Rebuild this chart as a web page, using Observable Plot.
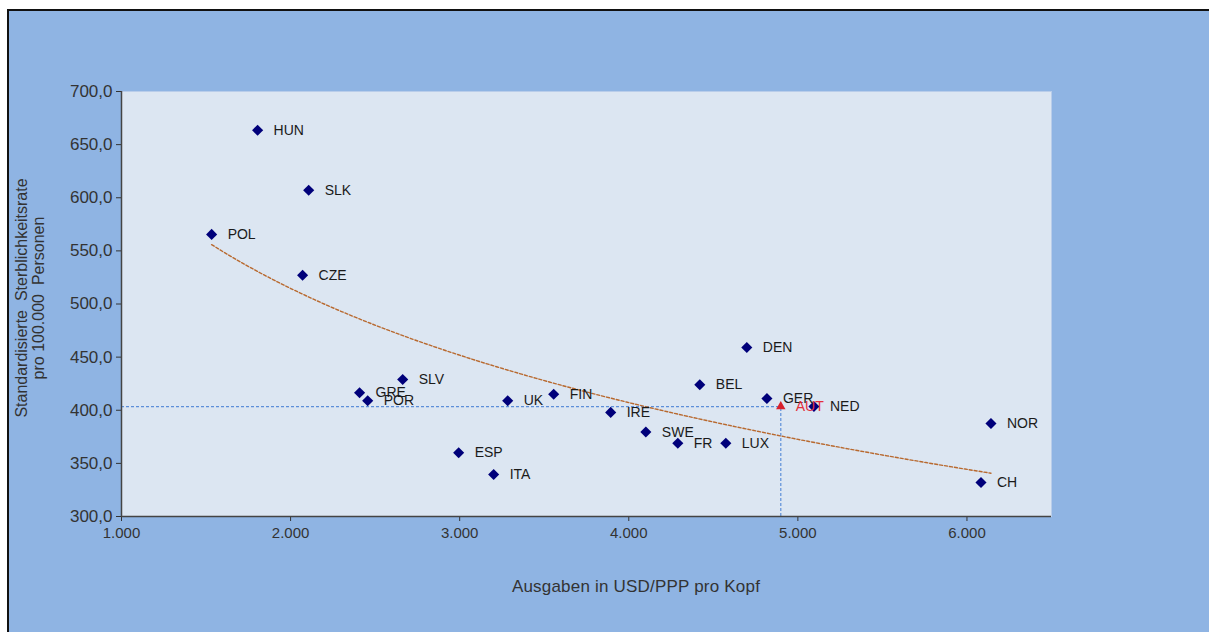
<!DOCTYPE html>
<html>
<head>
<meta charset="utf-8">
<script src="https://cdn.jsdelivr.net/npm/d3@7"></script>
<script src="https://cdn.jsdelivr.net/npm/@observablehq/plot@0.6"></script>
<style>
  html, body { margin: 0; padding: 0; background: #ffffff; }
  #wrap { position: relative; width: 1209px; height: 632px; overflow: hidden; background: #ffffff; }
  #panel { position: absolute; left: 7px; top: 9px; right: 0; bottom: 0; background: #8fb4e3;
           border-left: 2px solid #111; border-top: 2px solid #111; }
  #chart { position: absolute; left: 0; top: 0; }
  #ytitle { position: absolute; left: 30px; top: 298px; transform: translate(-50%, -50%) rotate(-90deg);
            font-family: "Liberation Sans", Arial, sans-serif; font-size: 16px; color: #333; text-align: center;
            line-height: 17px; white-space: nowrap; }
  #xtitle { position: absolute; left: 636px; top: 587px; transform: translate(-50%, -50%);
            font-family: "Liberation Sans Narrow", "Liberation Sans", sans-serif; font-size: 17px; color: #333;
            white-space: nowrap; letter-spacing: 0.2px; }
</style>
</head>
<body>
<div id="wrap">
  <div id="panel"></div>
  <div id="chart"></div>
  <div id="ytitle">Standardisierte&nbsp; Sterblichkeitsrate<br>pro 100.000&nbsp; Personen</div>
  <div id="xtitle">Ausgaben in USD/PPP pro Kopf</div>
</div>
<script>
const countries = ["HUN","SLK","POL","CZE","DEN","BEL","SLV","GRE","POR","UK","FIN","IRE","GER","AUT","NED","NOR","SWE","FR","LUX","ESP","ITA","CH"];
const spending  = [1805, 2107, 1533, 2071, 4698, 4420, 2663, 2408, 2456, 3284, 3556, 3893, 4817, 4899, 5095, 6142, 4101, 4290, 4574, 2994, 3201, 6083];
const mortality = [663.5, 607, 565.5, 527, 459, 424, 429, 416.5, 409, 409, 415, 398, 411, 403.5, 403.5, 387.5, 379.5, 369, 369, 360, 339.5, 332];
const highlight = "AUT";
const xDomain = [1000, 6500];
const yDomain = [300, 700];
const xTicks = [1000, 2000, 3000, 4000, 5000, 6000];
const yTicks = [300, 350, 400, 450, 500, 550, 600, 650, 700];

const data = countries.map((c, i) => ({country: c, x: spending[i], y: mortality[i]}));
const others = data.filter(d => d.country !== highlight);
const aut = data.filter(d => d.country === highlight);

// logarithmic trend line (least squares on ln x), as in the spreadsheet's trendline
const lx = data.map(d => Math.log(d.x));
const mx = d3.mean(lx), my = d3.mean(data, d => d.y);
const b = d3.sum(data, (d, i) => (lx[i] - mx) * (d.y - my)) / d3.sum(lx, v => (v - mx) ** 2);
const a = my - b * mx;
const [minX, maxX] = d3.extent(spending);
const trend = d3.range(0, 61).map(k => {
  const x = minX + (maxX - minX) * k / 60;
  return {x, y: a + b * Math.log(x)};
});

const fmtY = d => d3.format(".1f")(d).replace(".", ",");
const fmtX = d => d3.format(",")(d).replace(/,/g, ".");

const chart = Plot.plot({
  width: 1209,
  height: 632,
  marginLeft: 121,
  marginRight: 158,
  marginTop: 91,
  marginBottom: 116,
  style: {background: "transparent", color: "#333", fontFamily: "Liberation Sans, Arial, sans-serif"},
  x: {domain: xDomain, ticks: xTicks, tickFormat: fmtX, label: null, tickSize: 5},
  y: {domain: yDomain, ticks: yTicks, tickFormat: fmtY, label: null, tickSize: 5},
  marks: [
    Plot.frame({fill: "#dce6f2", stroke: "#b9cdea"}),
    Plot.axisY({ticks: yTicks, tickFormat: fmtY, tickSize: 5, tickPadding: 4, fontSize: 17, label: null, stroke: "#333"}),
    Plot.axisX({ticks: xTicks, tickFormat: fmtX, tickSize: 5, tickPadding: 6, fontSize: 15, label: null, stroke: "#333",
                fontFamily: "Liberation Sans Narrow, Liberation Sans, sans-serif"}),
    Plot.ruleY(aut, {y: "y", x1: () => xDomain[0], x2: "x", stroke: "#5d8fd9", strokeDasharray: "3,2", strokeWidth: 1.2}),
    Plot.ruleX(aut, {x: "x", y1: () => yDomain[0], y2: "y", stroke: "#5d8fd9", strokeDasharray: "3,2", strokeWidth: 1.2}),
    Plot.line(trend, {x: "x", y: "y", stroke: "#b8692f", strokeWidth: 1.4, strokeDasharray: "3,2"}),
    Plot.ruleX([xDomain[0]], {stroke: "#444", strokeWidth: 1.5}),
    Plot.ruleY([yDomain[0]], {stroke: "#444", strokeWidth: 1.5}),
    Plot.dot(others, {x: "x", y: "y", symbol: "diamond2", r: 5, fill: "#00007a", stroke: "none"}),
    Plot.dot(aut, {x: "x", y: "y", symbol: "triangle", r: 3.5, fill: "#d8202c", stroke: "none"}),
    Plot.text(others, {x: "x", y: "y", text: "country", dx: 16, textAnchor: "start", fontSize: 14, fill: "#1a1a1a"}),
    Plot.text(aut, {x: "x", y: "y", text: "country", dx: 15, textAnchor: "start", fontSize: 14, fill: "#e3303c"})
  ]
});
document.getElementById("chart").appendChild(chart);
</script>
</body>
</html>
